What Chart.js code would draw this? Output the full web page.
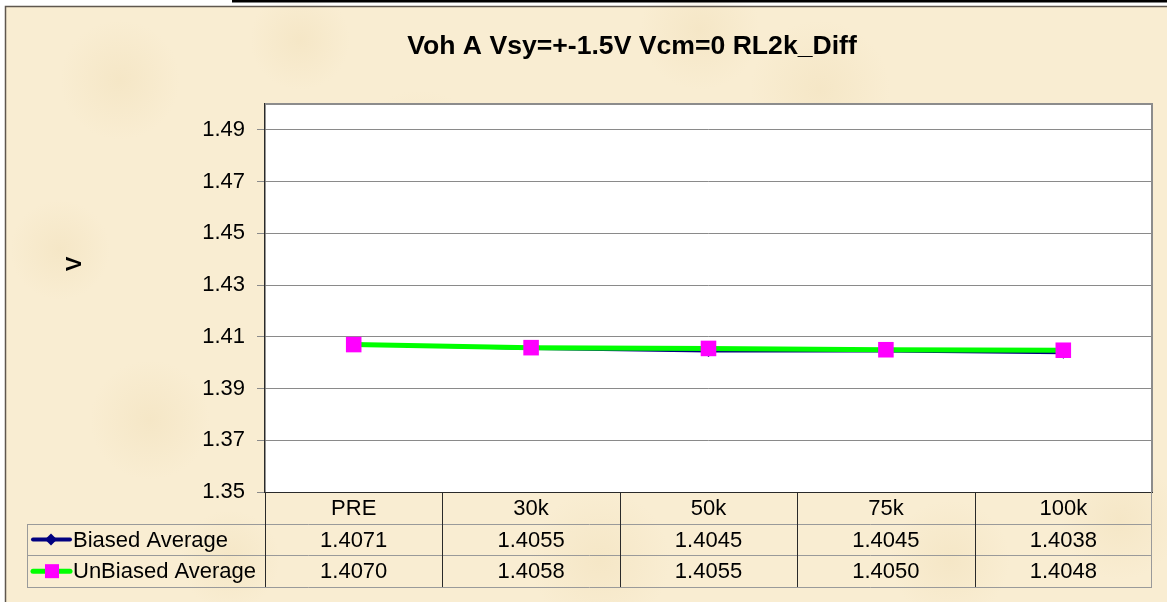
<!DOCTYPE html>
<html><head><meta charset="utf-8">
<script src="https://cdn.jsdelivr.net/npm/chart.js@4.4.1/dist/chart.umd.min.js"></script>
<style>html,body{margin:0;padding:0;background:#fff;} #wrap{width:1167px;height:602px;position:relative;}</style>
</head><body><div id="wrap"><canvas id="c" width="1167" height="602"></canvas></div>
<script>
const chartTitle = 'Voh A Vsy=+-1.5V Vcm=0 RL2k_Diff';
const yAxisTitle = 'V';
const categories = ['PRE', '30k', '50k', '75k', '100k'];
const biasedName = 'Biased Average';
const biasedValues = [1.4071, 1.4055, 1.4045, 1.4045, 1.4038];
const unbiasedName = 'UnBiased Average';
const unbiasedValues = [1.4070, 1.4058, 1.4055, 1.4050, 1.4048];
const yTicks = [1.35, 1.37, 1.39, 1.41, 1.43, 1.45, 1.47, 1.49];
const yMin = 1.35, yMax = 1.50;

const FONT = "'Liberation Sans', Arial, sans-serif";
const BG = '#F9EDD2';
const NAVY = '#000080', GREEN = '#00FF00', MAGENTA = '#FF00FF';

const decor = {
  id: 'decor',
  beforeDraw(chart) {
    const ctx = chart.ctx, W = chart.width, H = chart.height, ca = chart.chartArea;
    ctx.save();
    ctx.fillStyle = '#ffffff';
    ctx.fillRect(0, 0, W, H);
    ctx.fillStyle = BG;
    ctx.fillRect(5, 6, W - 5, H - 6);
    // soft parchment blotches (fixed positions)
    const blots = [[120,80,60],[420,160,70],[820,90,70],[1050,300,80],[150,420,60],[600,560,70],[950,560,60],[60,250,50],[700,30,60],[300,40,50],[1120,520,60],[230,560,50]];
    blots.forEach(([x,y,r]) => {
      const g = ctx.createRadialGradient(x,y,0,x,y,r);
      g.addColorStop(0,'rgba(236,216,172,0.3)');
      g.addColorStop(1,'rgba(236,216,172,0)');
      ctx.fillStyle = g;
      ctx.fillRect(x-r,y-r,2*r,2*r);
    });
    // frame
    ctx.strokeStyle = '#5f574e';
    ctx.lineWidth = 1.5;
    ctx.beginPath();
    ctx.moveTo(5.5, H); ctx.lineTo(5.5, 6.5); ctx.lineTo(W, 6.5);
    ctx.stroke();
    // top black strip
    ctx.fillStyle = '#000';
    ctx.fillRect(232, 0, W - 232, 2.5);
    // plot area
    ctx.fillStyle = '#ffffff';
    ctx.fillRect(ca.left, ca.top, ca.right - ca.left, ca.bottom - ca.top);
    ctx.restore();
  },
  afterDraw(chart) {
    const ctx = chart.ctx, ca = chart.chartArea, xs = chart.scales.x;
    ctx.save();
    // plot border top/right
    ctx.strokeStyle = '#8c8c8c';
    ctx.lineWidth = 2;
    ctx.beginPath();
    ctx.moveTo(ca.left, ca.top); ctx.lineTo(ca.right, ca.top); ctx.lineTo(ca.right, ca.bottom);
    ctx.stroke();

    // title
    ctx.fillStyle = '#000';
    ctx.font = 'bold 26.6px ' + FONT;
    ctx.textAlign = 'center';
    ctx.textBaseline = 'middle';
    ctx.fillText(chartTitle, 632, 47);

    // y axis title (rotated)
    ctx.save();
    ctx.translate(75, 264);
    ctx.rotate(-Math.PI / 2);
    ctx.font = 'bold 22px ' + FONT;
    ctx.fillText(yAxisTitle, 0, 0);
    ctx.restore();

    // data table
    const n = categories.length;
    const bounds = [ca.left];
    for (let i = 1; i < n; i++) bounds.push((xs.getPixelForValue(i - 1) + xs.getPixelForValue(i)) / 2);
    bounds.push(ca.right);
    const tableBottom = chart.height - 15;
    const rowH = (tableBottom - ca.bottom) / 3;
    const rows = [ca.bottom + rowH, ca.bottom + 2 * rowH, tableBottom];
    const legLeft = 27;

    ctx.strokeStyle = '#9a9a9a';
    ctx.lineWidth = 1;
    ctx.beginPath();
    rows.forEach(y => { ctx.moveTo(legLeft, Math.round(y) + 0.5); ctx.lineTo(ca.right, Math.round(y) + 0.5); });
    ctx.moveTo(legLeft + 0.5, Math.round(rows[0])); ctx.lineTo(legLeft + 0.5, Math.round(tableBottom));
    ctx.moveTo(ca.right - 0.5, ca.bottom); ctx.lineTo(ca.right - 0.5, Math.round(tableBottom));
    ctx.stroke();

    ctx.strokeStyle = '#2a2a2a';
    ctx.beginPath();
    for (let i = 0; i < n; i++) {
      const x = Math.round(bounds[i]) + 0.5;
      ctx.moveTo(x, ca.bottom); ctx.lineTo(x, Math.round(tableBottom));
    }
    ctx.stroke();

    ctx.fillStyle = '#000';
    ctx.font = '22px ' + FONT;
    ctx.textAlign = 'center';
    ctx.textBaseline = 'middle';
    const seriesVals = [biasedValues, unbiasedValues];
    seriesVals.forEach((vals, r) => {
      const yc = ca.bottom + rowH * (r + 1.5) + 1;
      vals.forEach((v, i) => {
        ctx.fillText(v.toFixed(4), xs.getPixelForValue(i), yc);
      });
    });

    // legend keys
    ctx.textAlign = 'left';
    const names = [biasedName, unbiasedName];
    names.forEach((nm, r) => {
      const yc = ca.bottom + rowH * (r + 1.5);
      ctx.lineCap = 'round';
      if (r === 0) {
        ctx.strokeStyle = NAVY; ctx.lineWidth = 4;
        ctx.beginPath(); ctx.moveTo(33, yc); ctx.lineTo(70, yc); ctx.stroke();
        ctx.fillStyle = NAVY;
        ctx.beginPath();
        ctx.moveTo(51, yc - 6); ctx.lineTo(57, yc); ctx.lineTo(51, yc + 6); ctx.lineTo(45, yc); ctx.closePath();
        ctx.fill();
      } else {
        ctx.strokeStyle = GREEN; ctx.lineWidth = 5;
        ctx.beginPath(); ctx.moveTo(33, yc); ctx.lineTo(70, yc); ctx.stroke();
        ctx.fillStyle = MAGENTA;
        ctx.fillRect(45, yc - 7, 14, 14);
      }
      ctx.fillStyle = '#000';
      ctx.fillText(nm, 73, yc + 1);
    });
    ctx.restore();
  }
};

new Chart(document.getElementById('c'), {
  type: 'line',
  data: {
    labels: categories,
    datasets: [
      {
        label: biasedName, data: biasedValues,
        borderColor: NAVY, backgroundColor: NAVY, borderWidth: 3,
        pointStyle: 'rectRot', pointRadius: 6, pointBackgroundColor: NAVY, pointBorderColor: NAVY,
        pointBorderWidth: 0, tension: 0, order: 2
      },
      {
        label: unbiasedName, data: unbiasedValues,
        borderColor: GREEN, backgroundColor: MAGENTA, borderWidth: 5,
        pointStyle: 'rect', pointRadius: 11, pointBackgroundColor: MAGENTA, pointBorderColor: MAGENTA,
        pointBorderWidth: 0, tension: 0, order: 1
      }
    ]
  },
  options: {
    responsive: false, animation: false, devicePixelRatio: 1,
    layout: { padding: { top: 104, right: 15, bottom: 15, left: 0 } },
    plugins: { legend: { display: false }, title: { display: false }, tooltip: { enabled: false } },
    scales: {
      x: {
        type: 'category', offset: true,
        grid: { display: false, drawTicks: false },
        border: { display: true, color: '#2a2a2a', width: 1 },
        ticks: { color: '#000', font: { family: FONT, size: 22 }, padding: 4, maxRotation: 0 },
        afterFit(s) { s.height = 95; }
      },
      y: {
        min: yMin, max: yMax,
        afterBuildTicks(s) { s.ticks = yTicks.map(v => ({ value: v })); },
        grid: { color: '#8a8a8a', lineWidth: 1, tickLength: 8, drawTicks: true },
        border: { display: true, color: '#2a2a2a', width: 1.5 },
        ticks: { color: '#000', font: { family: FONT, size: 22 }, padding: 12, callback: v => Number(v).toFixed(2) },
        afterFit(s) { s.width = 265; }
      }
    }
  },
  plugins: [decor]
});
</script>
</body></html>
